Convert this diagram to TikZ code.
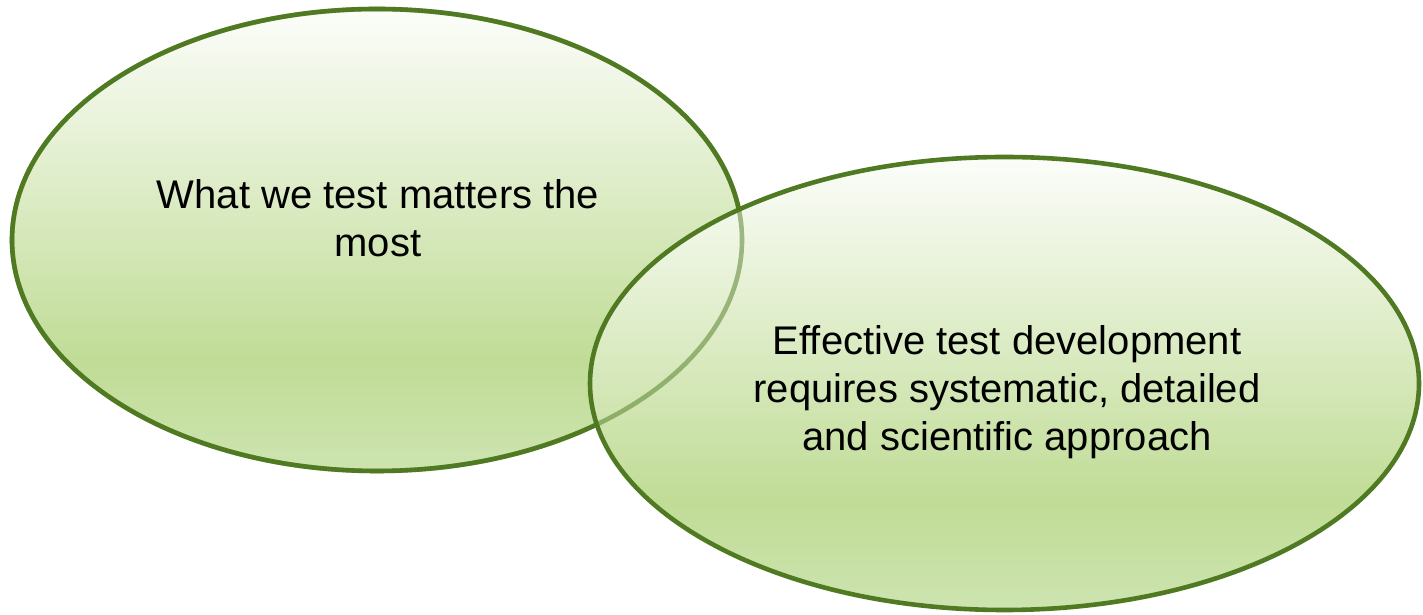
\documentclass[tikz,border=0pt]{standalone}
\usepackage{fontspec}
\setmainfont{Liberation Sans}
\definecolor{edge}{HTML}{4F7A22}
\definecolor{gtop}{HTML}{FCFDFA}
\definecolor{gmid}{HTML}{C0DC96}
\definecolor{gbot}{HTML}{CDE4B0}
\pgfdeclareverticalshading{vennfill}{100bp}{color(0bp)=(gbot); color(25bp)=(gbot); color(37bp)=(gmid); color(75bp)=(gtop); color(100bp)=(gtop)}
\tikzset{
  vennshape/.style={shading=vennfill},
  vennline/.style={draw=edge, line width=4.6pt},
  venntext/.style={align=center, font=\fontsize{40}{48}\selectfont, text=black}
}
\begin{document}
\begin{tikzpicture}[x=1pt,y=1pt]
\useasboundingbox (0,0) rectangle (1423,615);
% ellipse 1
\shade[vennshape] (377,375) ellipse [x radius=365, y radius=231];
\draw[vennline] (377,375) ellipse [x radius=365, y radius=231];
% ellipse 2
\shade[vennshape] (1004.5,231.5) ellipse [x radius=414.5, y radius=226.5];
% ellipse 1 outline seen through ellipse 2
\draw[vennline, draw opacity=0.5] (377,375) ellipse [x radius=365, y radius=231];
\draw[vennline] (1004.5,231.5) ellipse [x radius=414.5, y radius=226.5];
\node[venntext] (t1) at (378,396.5) {What we test matters the\\most};
\node[venntext] (t2) at (1007,222.5) {Effective test development\\requires systematic, detailed\\and scientific approach};
\end{tikzpicture}
\end{document}
